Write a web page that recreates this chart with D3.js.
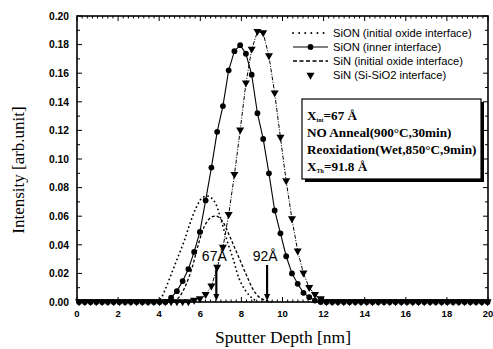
<!DOCTYPE html>
<html><head><meta charset="utf-8">
<script src="https://cdn.jsdelivr.net/npm/d3@7"></script>
<style>body{margin:0;background:#fff}svg{display:block}</style>
</head><body>
<svg id="c" width="493" height="349"></svg>
<script>
// ---- data ----
const depthGrid = [0.10,0.38,0.66,0.94,1.22,1.50,1.78,2.06,2.34,2.62,2.90,3.18,3.46,3.74,4.02,4.30,4.58,4.86,5.14,5.42,5.70,5.98,6.26,6.54,6.82,7.10,7.38,7.66,7.94,8.22,8.50,8.78,9.06,9.34,9.62,9.90,10.18,10.46,10.74,11.02,11.30,11.58,11.86,12.14,12.42,12.70,12.98,13.26,13.54,13.82,14.10,14.38,14.66,14.94,15.22,15.50,15.78,16.06,16.34,16.62,16.90,17.18,17.46,17.74,18.02,18.30,18.58,18.86,19.14,19.42,19.70,19.98];
const sionInner = [0,0,0,0,0,0,0,0,0,0,0,0,0,0,0,0,0.003,0.0076,0.0146,0.023,0.035,0.049,0.071,0.094,0.119,0.137,0.162,0.1754,0.1796,0.1736,0.159,0.132,0.114,0.090,0.064,0.048,0.032,0.020,0.0127,0.0064,0.0034,0.001,0,0,0,0,0,0,0,0,0,0,0,0,0,0,0,0,0,0,0,0,0,0,0,0,0,0,0,0,0,0];
const sinSiSiO2 = [0,0,0,0,0,0,0,0,0,0,0,0,0,0,0,0,0,0,0,0,0.001,0.002,0.005,0.011,0.024,0.038,0.061,0.089,0.120,0.153,0.1766,0.189,0.188,0.172,0.146,0.115,0.0845,0.058,0.0355,0.020,0.0099,0.005,0.002,0,0,0,0,0,0,0,0,0,0,0,0,0,0,0,0,0,0,0,0,0,0,0,0,0,0,0,0,0];
const sionInitDepth = [3.9,4.1,4.3,4.6,4.9,5.2,5.5,5.8,6.1,6.4,6.7,7.0,7.3,7.6,7.9,8.2,8.5,8.8];
const sionInitValue = [0,0.003,0.009,0.020,0.031,0.042,0.055,0.066,0.073,0.074,0.070,0.058,0.043,0.030,0.016,0.008,0.003,0];
const sinInitDepth = [4.7,5.0,5.3,5.6,5.9,6.2,6.5,6.8,7.1,7.4,7.7,8.0,8.3,8.6,8.9,9.2,9.5];
const sinInitValue = [0,0.004,0.012,0.024,0.040,0.053,0.059,0.060,0.056,0.047,0.037,0.027,0.017,0.008,0.003,0.001,0];
const legendLabels = ["SiON (initial oxide interface)","SiON (inner interface)","SiN (initial oxide interface)","SiN (Si-SiO2 interface)"];
const arrowDepths = [6.78, 9.25];
const arrowLabels = ["67Å","92Å"];
const xTicks = [0,2,4,6,8,10,12,14,16,18,20];
const yTicks = [0,0.02,0.04,0.06,0.08,0.10,0.12,0.14,0.16,0.18,0.20];

// ---- layout ----
const svg = d3.select("#c");
const L=77, R=488, T=16, B=302;
const x = d3.scaleLinear().domain([0,20]).range([L,R]);
const y = d3.scaleLinear().domain([0,0.20]).range([B,T]);

const g = svg.append("g");
const plot = g.append("g");

// lines
const line = d3.line().x(d=>x(d[0])).y(d=>y(d[1]));
const zipP = (a,b)=>a.map((v,i)=>[v,b[i]]);
plot.append("path").datum(zipP(sionInitDepth,sionInitValue)).attr("d",line.curve(d3.curveCatmullRom))
  .attr("fill","none").attr("stroke","#000").attr("stroke-width",1.8).attr("stroke-dasharray","0.1 4.2").attr("stroke-linecap","round");
plot.append("path").datum(zipP(sinInitDepth,sinInitValue)).attr("d",line.curve(d3.curveCatmullRom))
  .attr("fill","none").attr("stroke","#000").attr("stroke-width",1.3).attr("stroke-dasharray","3 2");
const line2 = d3.line().x(d=>x(d[0])).y(d=>y(d[1]));
plot.append("path").datum(zipP(depthGrid,sionInner)).attr("d",line2)
  .attr("fill","none").attr("stroke","#000").attr("stroke-width",1.1);
plot.append("path").datum(zipP(depthGrid,sinSiSiO2)).attr("d",line2)
  .attr("fill","none").attr("stroke","#000").attr("stroke-width",1).attr("stroke-dasharray","4 1.5 1 1.5");

// markers
const tri = d3.symbol().type(d3.symbolTriangle).size(28);
plot.selectAll(".c").data(zipP(depthGrid,sionInner)).join("circle")
  .attr("cx",d=>x(d[0])).attr("cy",d=>y(d[1])).attr("r",2.9).attr("fill","#000");
plot.selectAll(".t").data(zipP(depthGrid,sinSiSiO2)).join("path")
  .attr("d",tri).attr("transform",d=>`translate(${x(d[0])},${y(d[1])-0.5}) rotate(180)`).attr("fill","#000");

// frame
g.append("rect").attr("x",L).attr("y",T).attr("width",R-L).attr("height",B-T)
  .attr("fill","none").attr("stroke","#000").attr("stroke-width",1.6);

// ticks
const tk = g.append("g").attr("stroke","#000").attr("stroke-width",1);
const minorX = d3.range(0,20.001,0.25);
minorX.forEach(v=>{
  const major = Math.abs(v/2-Math.round(v/2))<1e-6;
  const len = major?5:2.5;
  tk.append("line").attr("x1",x(v)).attr("x2",x(v)).attr("y1",B).attr("y2",B-len);
  tk.append("line").attr("x1",x(v)).attr("x2",x(v)).attr("y1",T).attr("y2",T+len);
});
const minorY = d3.range(0,0.2001,0.01);
minorY.forEach((v,i)=>{
  const len = (i%2===0)?5:3;
  tk.append("line").attr("x1",L).attr("x2",L+len).attr("y1",y(v)).attr("y2",y(v));
  tk.append("line").attr("x1",R).attr("x2",R-len).attr("y1",y(v)).attr("y2",y(v));
});

// tick labels
g.selectAll(".xl").data(xTicks).join("text").attr("x",d=>x(d)).attr("y",B+15)
  .attr("text-anchor","middle").attr("font-family","Liberation Sans, Arial, sans-serif")
  .attr("font-size",9.5).attr("font-weight","bold").text(d=>d);
g.selectAll(".yl").data(yTicks).join("text").attr("x",L-8).attr("y",d=>y(d)+3.7)
  .attr("text-anchor","end").attr("font-family","Liberation Sans, Arial, sans-serif")
  .attr("font-size",10.3).attr("font-weight","bold").text(d=>d3.format(".2f")(d));

// axis titles
g.append("text").attr("transform","translate(24,170) rotate(-90)").attr("text-anchor","middle")
  .attr("font-family","Liberation Serif, Times New Roman, serif").attr("font-size",17).text("Intensity [arb.unit]");
g.append("text").attr("x",283).attr("y",343).attr("text-anchor","middle")
  .attr("font-family","Liberation Serif, Times New Roman, serif").attr("font-size",17.5).text("Sputter Depth [nm]");

// arrows with labels
arrowDepths.forEach((d,i)=>{
  const ax = x(d);
  g.append("line").attr("x1",ax).attr("x2",ax).attr("y1",265).attr("y2",B-6).attr("stroke","#000").attr("stroke-width",2.2);
  g.append("path").attr("d",`M${ax-3},${B-8}L${ax+3},${B-8}L${ax},${B-1}Z`).attr("fill","#000");
  g.append("text").attr("x",ax-2).attr("y",261).attr("text-anchor","middle")
    .attr("font-family","Liberation Sans, Arial, sans-serif").attr("font-size",14).text(arrowLabels[i]);
});

// legend
const lg = g.append("g");
const rowY = [33,47,61,75];
const lx0=293, lx1=328;
legendLabels.forEach((t,i)=>{
  const yy=rowY[i];
  if(i===0) lg.append("line").attr("x1",lx0).attr("x2",lx1).attr("y1",yy).attr("y2",yy).attr("stroke","#000").attr("stroke-width",1.8).attr("stroke-dasharray","0.1 6").attr("stroke-linecap","round");
  if(i===1){ lg.append("line").attr("x1",lx0).attr("x2",lx1).attr("y1",yy).attr("y2",yy).attr("stroke","#000").attr("stroke-width",1.1);
    lg.append("circle").attr("cx",(lx0+lx1)/2).attr("cy",yy).attr("r",2.9); }
  if(i===2) lg.append("line").attr("x1",lx0).attr("x2",lx1).attr("y1",yy).attr("y2",yy).attr("stroke","#000").attr("stroke-width",1.3).attr("stroke-dasharray","4 2.5");
  if(i===3) lg.append("path").attr("d",tri).attr("transform",`translate(${(lx0+lx1)/2},${yy}) rotate(180)`);
  lg.append("text").attr("x",333).attr("y",yy+4).attr("font-family","Liberation Sans, Arial, sans-serif")
    .attr("font-size",11.2).text(t);
});

// info box
const bx=302, by=99, bw=179, bh=80;
g.append("rect").attr("x",bx+3).attr("y",by+3).attr("width",bw).attr("height",bh).attr("fill","#000");
g.append("rect").attr("x",bx).attr("y",by).attr("width",bw).attr("height",bh).attr("fill","#fff").attr("stroke","#000").attr("stroke-width",1.2);
const bt = g.append("g").attr("font-family","Liberation Serif, Times New Roman, serif").attr("font-weight","bold").attr("font-size",13.2);
const t1 = bt.append("text").attr("x",307).attr("y",120);
t1.append("tspan").text("X");
t1.append("tspan").attr("font-size",6).attr("dy",2).text("int");
t1.append("tspan").attr("dy",-2).text("=67 Å");
bt.append("text").attr("x",307).attr("y",137).text("NO Anneal(900°C,30min)");
bt.append("text").attr("x",307).attr("y",154).text("Reoxidation(Wet,850°C,9min)");
const t4 = bt.append("text").attr("x",307).attr("y",171);
t4.append("tspan").text("X");
t4.append("tspan").attr("font-size",6).attr("dy",2).text("Th");
t4.append("tspan").attr("dy",-2).text("=91.8 Å");
</script>
</body></html>
